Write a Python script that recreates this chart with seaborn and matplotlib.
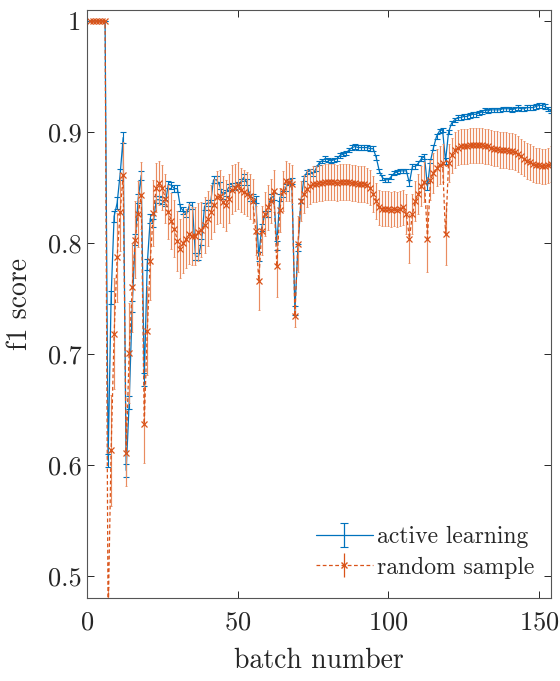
import numpy as np
import pandas as pd
import seaborn as sns
import matplotlib
matplotlib.use("Agg")
import matplotlib.pyplot as plt

# f1 score per batch
batches = list(range(1, 155))

active_f1 = [
    1.0, 1.0, 1.0, 1.0, 1.0, 1.0, 0.604, 0.751, 0.824, 0.836,
    0.862, 0.895, 0.595, 0.656, 0.743, 0.803, 0.840, 0.861, 0.677, 0.781,
    0.822, 0.818, 0.839, 0.839, 0.838, 0.836, 0.853, 0.852, 0.849, 0.849,
    0.832, 0.829, 0.826, 0.834, 0.834, 0.788, 0.788, 0.801, 0.833, 0.836,
    0.836, 0.857, 0.857, 0.852, 0.843, 0.845, 0.850, 0.851, 0.851, 0.852,
    0.855, 0.859, 0.855, 0.841, 0.841, 0.839, 0.788, 0.814, 0.826, 0.826,
    0.841, 0.842, 0.798, 0.841, 0.844, 0.850, 0.855, 0.856, 0.739, 0.796,
    0.838, 0.858, 0.864, 0.865, 0.862, 0.867, 0.872, 0.874, 0.876, 0.875,
    0.874, 0.875, 0.876, 0.879, 0.880, 0.881, 0.884, 0.886, 0.887, 0.886,
    0.886, 0.886, 0.886, 0.885, 0.885, 0.877, 0.865, 0.859, 0.857, 0.857,
    0.860, 0.863, 0.864, 0.865, 0.865, 0.865, 0.854, 0.869, 0.869, 0.872,
    0.876, 0.878, 0.851, 0.874, 0.886, 0.896, 0.901, 0.902, 0.874, 0.900,
    0.908, 0.911, 0.913, 0.913, 0.914, 0.914, 0.915, 0.916, 0.916, 0.917,
    0.918, 0.920, 0.919, 0.920, 0.920, 0.920, 0.920, 0.921, 0.921, 0.921,
    0.920, 0.921, 0.922, 0.921, 0.921, 0.922, 0.922, 0.922, 0.923, 0.924,
    0.924, 0.923, 0.921, 0.919,
]
active_err = [
    0.0, 0.0, 0.0, 0.0, 0.0, 0.0, 0.006, 0.006, 0.005, 0.005,
    0.005, 0.005, 0.006, 0.006, 0.005, 0.005, 0.004, 0.004, 0.006, 0.005,
    0.004, 0.004, 0.003, 0.003, 0.003, 0.003, 0.003, 0.003, 0.003, 0.003,
    0.003, 0.003, 0.003, 0.003, 0.003, 0.003, 0.003, 0.003, 0.003, 0.003,
    0.003, 0.003, 0.003, 0.003, 0.003, 0.003, 0.003, 0.003, 0.003, 0.003,
    0.003, 0.003, 0.003, 0.003, 0.003, 0.003, 0.004, 0.003, 0.003, 0.003,
    0.003, 0.003, 0.004, 0.003, 0.003, 0.003, 0.003, 0.003, 0.004, 0.003,
    0.002, 0.002, 0.002, 0.002, 0.002, 0.002, 0.002, 0.002, 0.002, 0.002,
    0.002, 0.002, 0.002, 0.002, 0.002, 0.002, 0.002, 0.002, 0.002, 0.002,
    0.002, 0.002, 0.002, 0.002, 0.002, 0.002, 0.002, 0.002, 0.002, 0.002,
    0.002, 0.002, 0.002, 0.002, 0.002, 0.002, 0.003, 0.002, 0.002, 0.002,
    0.002, 0.002, 0.003, 0.002, 0.002, 0.002, 0.002, 0.002, 0.003, 0.002,
    0.002, 0.002, 0.002, 0.002, 0.002, 0.002, 0.002, 0.002, 0.002, 0.002,
    0.002, 0.002, 0.002, 0.002, 0.002, 0.002, 0.002, 0.002, 0.002, 0.002,
    0.002, 0.002, 0.002, 0.002, 0.002, 0.002, 0.002, 0.002, 0.002, 0.002,
    0.002, 0.002, 0.002, 0.002,
]

random_f1 = [
    1.0, 1.0, 1.0, 1.0, 1.0, 1.0, 0.46, 0.613, 0.718, 0.787,
    0.828, 0.861, 0.611, 0.701, 0.760, 0.803, 0.826, 0.843, 0.637, 0.721,
    0.784, 0.827, 0.850, 0.854, 0.850, 0.840, 0.828, 0.820, 0.813, 0.802,
    0.795, 0.800, 0.804, 0.808, 0.806, 0.806, 0.810, 0.812, 0.816, 0.822,
    0.828, 0.834, 0.841, 0.842, 0.837, 0.834, 0.840, 0.848, 0.850, 0.852,
    0.848, 0.846, 0.844, 0.842, 0.838, 0.811, 0.766, 0.811, 0.826, 0.832,
    0.838, 0.847, 0.779, 0.830, 0.847, 0.856, 0.855, 0.853, 0.734, 0.799,
    0.838, 0.844, 0.849, 0.851, 0.853, 0.853, 0.854, 0.854, 0.855, 0.855,
    0.855, 0.855, 0.854, 0.855, 0.855, 0.855, 0.855, 0.854, 0.854, 0.853,
    0.853, 0.853, 0.852, 0.850, 0.844, 0.838, 0.832, 0.831, 0.831, 0.831,
    0.830, 0.831, 0.830, 0.831, 0.832, 0.826, 0.804, 0.826, 0.838, 0.844,
    0.851, 0.855, 0.804, 0.857, 0.863, 0.868, 0.870, 0.872, 0.808, 0.872,
    0.879, 0.884, 0.886, 0.887, 0.887, 0.887, 0.888, 0.888, 0.888, 0.888,
    0.888, 0.887, 0.887, 0.886, 0.885, 0.885, 0.884, 0.884, 0.884, 0.883,
    0.883, 0.882, 0.880, 0.878, 0.876, 0.874, 0.873, 0.871, 0.870, 0.870,
    0.869, 0.869, 0.870, 0.871,
]
random_err = [
    0.0, 0.0, 0.0, 0.0, 0.0, 0.0, 0.030, 0.050, 0.050, 0.040,
    0.035, 0.030, 0.030, 0.045, 0.040, 0.035, 0.030, 0.030, 0.035, 0.040,
    0.035, 0.030, 0.022, 0.020, 0.020, 0.022, 0.024, 0.025, 0.026, 0.027,
    0.027, 0.027, 0.027, 0.027, 0.026, 0.026, 0.026, 0.025, 0.025, 0.025,
    0.024, 0.024, 0.024, 0.024, 0.023, 0.023, 0.022, 0.022, 0.021, 0.021,
    0.020, 0.020, 0.020, 0.020, 0.020, 0.022, 0.026, 0.022, 0.020, 0.020,
    0.020, 0.019, 0.028, 0.020, 0.018, 0.018, 0.017, 0.017, 0.010, 0.025,
    0.018, 0.017, 0.017, 0.016, 0.016, 0.016, 0.016, 0.016, 0.016, 0.016,
    0.016, 0.016, 0.016, 0.016, 0.016, 0.016, 0.016, 0.016, 0.016, 0.016,
    0.016, 0.016, 0.016, 0.016, 0.016, 0.016, 0.016, 0.016, 0.016, 0.016,
    0.016, 0.016, 0.016, 0.016, 0.016, 0.018, 0.022, 0.018, 0.018, 0.018,
    0.018, 0.018, 0.030, 0.018, 0.018, 0.017, 0.017, 0.017, 0.028, 0.017,
    0.016, 0.016, 0.016, 0.016, 0.016, 0.016, 0.016, 0.016, 0.016, 0.016,
    0.016, 0.016, 0.016, 0.016, 0.016, 0.016, 0.016, 0.016, 0.016, 0.016,
    0.016, 0.016, 0.016, 0.016, 0.016, 0.016, 0.016, 0.016, 0.016, 0.016,
    0.016, 0.016, 0.016, 0.016,
]

series_names = ["active learning", "random sample"]
blue = "#0072BD"
orange = "#D95319"
ink = "#262626"

df = pd.concat([
    pd.DataFrame({"batch": batches, "f1": active_f1, "err": active_err, "method": series_names[0]}),
    pd.DataFrame({"batch": batches, "f1": random_f1, "err": random_err, "method": series_names[1]}),
], ignore_index=True)

sns.set_style("ticks")
plt.rcParams["font.family"] = ["cmr10", "DejaVu Serif"]
plt.rcParams["mathtext.fontset"] = "cm"
plt.rcParams["axes.formatter.use_mathtext"] = True

fig = plt.figure(figsize=(5.6, 6.81), dpi=100)
ax = fig.add_axes([87 / 560, 83 / 681, 464 / 560, 588 / 681])

act = df[df["method"] == series_names[0]]
rnd = df[df["method"] == series_names[1]]

# error bars first, lines drawn over them
ax.errorbar(act["batch"], act["f1"], yerr=act["err"], fmt="none",
            ecolor=blue, elinewidth=0.8, capsize=2.5, capthick=0.8, zorder=2.2)
ax.errorbar(rnd["batch"], rnd["f1"], yerr=rnd["err"], fmt="none",
            ecolor="#E98C60", elinewidth=0.85, capsize=1, capthick=0.6,
            zorder=2.4)

sns.lineplot(data=act, x="batch", y="f1", color=blue, linewidth=0.9,
             estimator=None, sort=False, ax=ax, zorder=2.3)
sns.lineplot(data=rnd, x="batch", y="f1", color=orange, linewidth=0.9,
             linestyle=(0, (3, 2)), marker="x", markersize=4.2,
             markeredgewidth=0.9, markeredgecolor=orange,
             estimator=None, sort=False, ax=ax, zorder=2.5)

# legend proxies (errorbar style handles)
h1 = ax.errorbar([np.nan], [np.nan], yerr=[np.nan], color=blue, linewidth=0.9,
                 capsize=3, capthick=0.8, label=series_names[0])
h2 = ax.errorbar([np.nan], [np.nan], yerr=[np.nan], color=orange, linewidth=0.9,
                 linestyle=(0, (3, 2)), marker="x", markersize=4, capsize=0,
                 label=series_names[1])
ax.legend(handles=[h1, h2], loc="lower right", frameon=False, fontsize=17,
          handlelength=2.4, handletextpad=0.2, borderaxespad=0.3,
          labelspacing=0.35, bbox_to_anchor=(1.0, 0.005))

ax.set_xlim(0, 154)
ax.set_ylim(0.48, 1.01)
ax.set_xticks([0, 50, 100, 150])
ax.set_yticks([0.5, 0.6, 0.7, 0.8, 0.9, 1.0])
ax.set_yticklabels(["0.5", "0.6", "0.7", "0.8", "0.9", "1"])
ax.set_xlabel("batch number", fontsize=20, color=ink)
ax.set_ylabel("f1 score", fontsize=20, color=ink)
ax.xaxis.set_label_coords(0.5, -0.085)
ax.yaxis.set_label_coords(-0.116, 0.5)

ax.tick_params(direction="in", length=5, width=0.7, colors=ink, labelsize=19,
               top=True, right=True)
ax.tick_params(axis="x", pad=9)
ax.tick_params(axis="y", pad=4)
for side in ["left", "right", "top", "bottom"]:
    ax.spines[side].set_visible(True)
    ax.spines[side].set_color("#555555")
    ax.spines[side].set_linewidth(0.8)

fig.savefig("out.png", dpi=100, facecolor="white")
